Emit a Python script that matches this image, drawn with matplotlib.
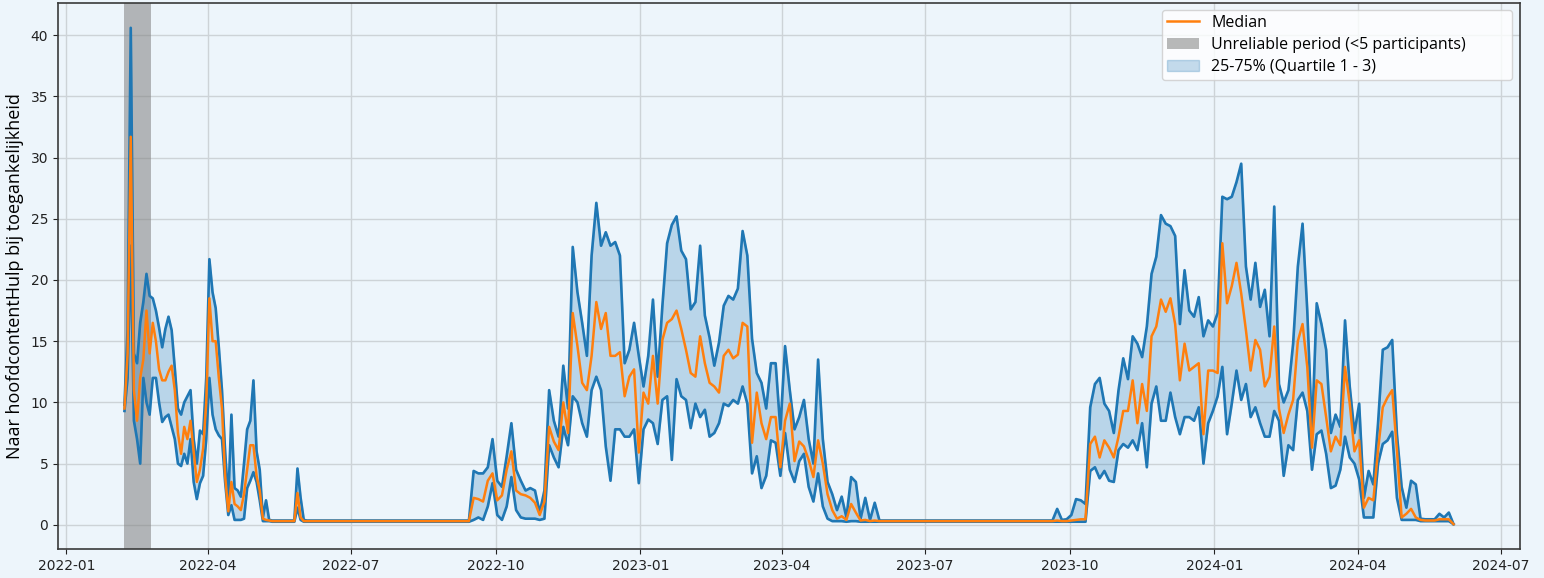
import pandas as pd
import matplotlib
matplotlib.use('Agg')
from matplotlib import pyplot as plt
import matplotlib.dates as mdates

# winter 2021/22, one value every 2 days
season1_start = '2022-02-07'
season1_q1 = [9.3, 12, 22.8, 8.5, 7, 5, 12, 10, 9, 12,
              12, 10, 8.4, 8.8, 9, 8, 7, 5, 4.8, 5.8,
              5, 7, 3.5, 2.1, 3.4, 4, 7, 12, 9, 7.8,
              7.3, 7, 3.5, 0.8, 1.6, 0.4, 0.4, 0.4, 0.5, 3,
              3.6, 4.3, 3.5, 2, 0.3, 0.3, 0.3, 0.25, 0.25, 0.25,
              0.25, 0.25, 0.25, 0.25, 0.25, 1.4, 0.4, 0.25, 0.25, 0.25]
season1_median = [9.5, 14, 31.7, 11, 8.5, 12, 13.5, 17.5, 14, 16.5,
                  15, 12.7, 11.8, 11.8, 12.5, 13, 11, 7.5, 5.8, 8,
                  7, 8.5, 6, 3.5, 4.5, 6.2, 10, 18.5, 15, 15,
                  12, 9.5, 4, 1.1, 3.5, 1.7, 1.5, 1.2, 2.5, 4.5,
                  6.5, 6.5, 4, 2.8, 0.5, 0.4, 0.35, 0.3, 0.3, 0.3,
                  0.3, 0.3, 0.3, 0.3, 0.3, 2.6, 0.6, 0.3, 0.3, 0.3]
season1_q3 = [9.8, 16, 40.6, 14, 13.2, 16.5, 18.2, 20.5, 18.7, 18.5,
              17.5, 16.1, 14.5, 16, 17, 15.9, 12.8, 9.5, 9, 10,
              10.5, 11, 7, 5, 7.7, 7.4, 12, 21.7, 19, 17.7,
              14.5, 11, 6, 2, 9, 3, 2.8, 2.3, 5, 7.8,
              8.5, 11.8, 6, 4.5, 0.6, 2, 0.4, 0.35, 0.35, 0.35,
              0.35, 0.35, 0.35, 0.35, 0.35, 4.6, 2.2, 0.4, 0.35, 0.35]

# winter 2022/23, one value every 3 days
season2_start = '2022-09-14'
season2_q1 = [0.25, 0.4, 0.6, 0.4, 1.5, 3.4, 0.8, 0.4, 1.5, 3.9,
              1.2, 0.6, 0.5, 0.5, 0.5, 0.4, 0.5, 6.5, 5.5, 4.7,
              8.0, 6.5, 10.5, 10.0, 8.3, 7.2, 11.0, 12.1, 11.0, 6.4,
              3.6, 7.8, 7.8, 7.2, 7.2, 7.8, 3.4, 7.8, 8.6, 8.3,
              6.6, 10.2, 10.5, 5.3, 11.9, 10.5, 10.2, 7.9, 9.9, 8.8,
              9.4, 7.2, 7.5, 8.3, 9.9, 9.7, 10.2, 9.9, 11.3, 9.9,
              4.2, 5.6, 3.0, 4.0, 6.9, 6.7, 4.0, 7.5, 4.5, 3.5,
              5.2, 5.8, 3.1, 1.9, 4.2, 1.5, 0.5, 0.3, 0.3, 0.3,
              0.25, 0.3, 0.3, 0.25, 0.25, 0.25, 0.25, 0.25]
season2_median = [0.3, 2.2, 2.1, 1.9, 3.6, 4.2, 2.0, 2.4, 4.5, 6.0,
                  2.8, 2.5, 2.4, 2.2, 1.8, 0.8, 1.9, 8.0, 6.8, 6.1,
                  10.0, 7.5, 17.3, 14.6, 11.6, 11.0, 13.8, 18.2, 16.0, 17.3,
                  13.8, 13.8, 14.1, 10.5, 12.1, 12.7, 5.9, 10.8, 9.9, 13.8,
                  9.9, 15.1, 16.5, 16.8, 17.5, 16.0, 14.3, 12.4, 12.1, 15.4,
                  13.2, 11.6, 11.3, 10.8, 13.8, 14.3, 13.6, 13.9, 16.5, 16.2,
                  6.7, 10.8, 8.3, 7.0, 8.8, 8.8, 4.7, 8.5, 9.9, 5.2,
                  6.8, 6.4, 5.3, 3.9, 6.9, 5.0, 2.5, 1.2, 0.5, 0.7,
                  0.4, 1.7, 1.0, 0.35, 0.4, 0.3, 0.35, 0.3]
season2_q3 = [0.35, 4.4, 4.2, 4.2, 4.7, 7.0, 3.6, 3.1, 5.6, 8.3,
              4.5, 3.6, 2.8, 3.0, 2.8, 1.0, 2.8, 11.0, 8.5, 7.2,
              13.0, 9.5, 22.7, 19.0, 16.5, 13.8, 22.0, 26.3, 22.8, 23.9,
              22.8, 23.1, 22.0, 13.2, 14.3, 16.5, 13.8, 11.3, 13.8, 18.4,
              12.1, 17.9, 23.0, 24.5, 25.2, 22.4, 21.7, 17.6, 18.2, 22.8,
              17.1, 15.3, 13.0, 14.9, 17.9, 18.7, 18.4, 19.3, 24.0, 22.0,
              15.2, 12.4, 11.6, 9.5, 13.2, 13.2, 7.8, 14.6, 11.0, 7.8,
              8.8, 10.2, 7.0, 5.0, 13.5, 7.0, 3.5, 2.5, 1.2, 2.3,
              0.6, 3.9, 3.5, 0.5, 2.2, 0.4, 1.8, 0.35]

# winter 2023/24, one value every 3 days
season3_start = '2023-09-17'
season3_q1 = [0.25, 0.25, 0.25, 0.25, 0.25, 0.25, 0.25, 0.25, 0.25, 4.4,
              4.7, 3.8, 4.4, 3.6, 3.5, 6.1, 6.6, 6.3, 6.9, 6.1,
              8.3, 4.7, 9.9, 11.3, 8.5, 8.5, 10.8, 8.8, 7.4, 8.8,
              8.8, 8.5, 9.6, 5.0, 8.3, 9.3, 10.5, 12.9, 7.4, 9.9,
              12.6, 10.2, 11.5, 8.8, 9.6, 8.3, 7.2, 7.2, 9.3, 8.5,
              4.0, 6.5, 6.1, 10.2, 10.8, 9.3, 4.5, 7.4, 7.7, 5.8,
              3.0, 3.2, 4.5, 7.2, 5.5, 5.0, 3.7, 0.6, 0.6, 0.6,
              5.0, 6.6, 6.9, 7.6, 2.2, 0.4, 0.4, 0.4, 0.4, 0.3,
              0.3, 0.3, 0.3, 0.3, 0.3, 0.3, 0.05]
season3_median = [0.3, 0.3, 0.35, 0.3, 0.3, 0.35, 0.4, 0.45, 0.45, 6.6,
                  7.2, 5.5, 6.9, 6.3, 5.5, 7.2, 9.3, 9.3, 11.8, 8.3,
                  11.5, 9.3, 15.4, 16.2, 18.4, 17.4, 18.5, 16.4, 11.8, 14.8,
                  12.6, 12.9, 13.2, 7.4, 12.6, 12.6, 12.4, 23.0, 18.1, 19.5,
                  21.4, 18.9, 15.9, 12.6, 15.1, 14.3, 11.3, 12.1, 16.2, 9.5,
                  7.5, 9.0, 10.2, 15.0, 16.4, 12.9, 6.3, 11.8, 11.5, 8.8,
                  6.0, 7.2, 6.5, 12.9, 9.9, 6.0, 6.9, 1.4, 2.2, 2.0,
                  6.1, 9.6, 10.4, 11.0, 6.1, 0.6, 0.9, 1.3, 0.6, 0.4,
                  0.35, 0.35, 0.35, 0.45, 0.45, 0.45, 0.05]
season3_q3 = [0.35, 0.35, 1.3, 0.4, 0.45, 0.8, 2.1, 2.0, 1.7, 9.6,
              11.5, 12.0, 9.9, 9.3, 7.5, 11.0, 13.6, 11.9, 15.4, 14.8,
              13.7, 16.2, 20.5, 21.9, 25.3, 24.6, 24.4, 23.6, 16.4, 20.8,
              17.5, 17.0, 18.6, 15.4, 16.7, 16.2, 17.3, 26.8, 26.6, 26.8,
              28.0, 29.5, 21.1, 18.4, 21.4, 17.8, 19.2, 15.4, 26.0, 11.5,
              10.0, 11.0, 14.8, 21.1, 24.6, 17.5, 7.5, 18.1, 16.4, 14.3,
              7.5, 9.0, 8.0, 16.7, 11.3, 7.5, 9.9, 2.2, 4.4, 3.3,
              8.3, 14.3, 14.5, 15.1, 7.4, 3.1, 1.4, 3.6, 3.3, 0.5,
              0.45, 0.45, 0.45, 0.9, 0.6, 1.0, 0.05]

# fewer than 5 participants in this window
unreliable_start = '2022-02-07'
unreliable_end = '2022-02-24'

dates = pd.date_range(season1_start, periods=len(season1_median), freq='2D')
dates = dates.append(pd.date_range(season2_start, periods=len(season2_median), freq='3D'))
dates = dates.append(pd.date_range(season3_start, periods=len(season3_median), freq='3D'))
q1 = season1_q1 + season2_q1 + season3_q1
median = season1_median + season2_median + season3_median
q3 = season1_q3 + season2_q3 + season3_q3

bg = '#edf5fb'
fig = plt.figure(figsize=(15.44, 5.78), dpi=100, facecolor=bg)
ax = fig.add_axes([58 / 1544, 29 / 578, 1462 / 1544, 546 / 578])
ax.set_facecolor(bg)

span = ax.axvspan(pd.Timestamp(unreliable_start), pd.Timestamp(unreliable_end),
                  color='gray', alpha=0.55, lw=0)
band = ax.fill_between(dates, q1, q3, color='#1f77b4', alpha=0.25)
ax.plot(dates, q1, color='#1f77b4', lw=1.9)
ax.plot(dates, q3, color='#1f77b4', lw=1.9)
med_line, = ax.plot(dates, median, color='#ff7f0e', lw=1.8)

ax.grid(True, color='#cdd3d7', lw=1)
ax.set_axisbelow(True)
for s in ax.spines.values():
    s.set_color('#3a3a3a')
    s.set_linewidth(1.2)

ax.xaxis.set_major_locator(mdates.MonthLocator(bymonth=[1, 4, 7, 10]))
ax.xaxis.set_major_formatter(mdates.DateFormatter('%Y-%m'))
ax.tick_params(labelsize=10, colors='#222222')

ax.set_ylabel('Naar hoofdcontentHulp bij toegankelijkheid', family='Open Sans',
              fontsize=13, labelpad=5)

# legend box stretched over the top-right corner
ax.legend([med_line, span, band],
          ['Median', 'Unreliable period (<5 participants)', '25-75% (Quartile 1 - 3)'],
          loc='upper right', bbox_to_anchor=(0.7551, 0.5, 0.2394, 0.4872),
          mode='expand', borderaxespad=0,
          prop={'family': 'Open Sans', 'size': 11.5},
          labelspacing=0.38, borderpad=0.3)

plt.savefig('out.png', dpi=100, facecolor=bg)
